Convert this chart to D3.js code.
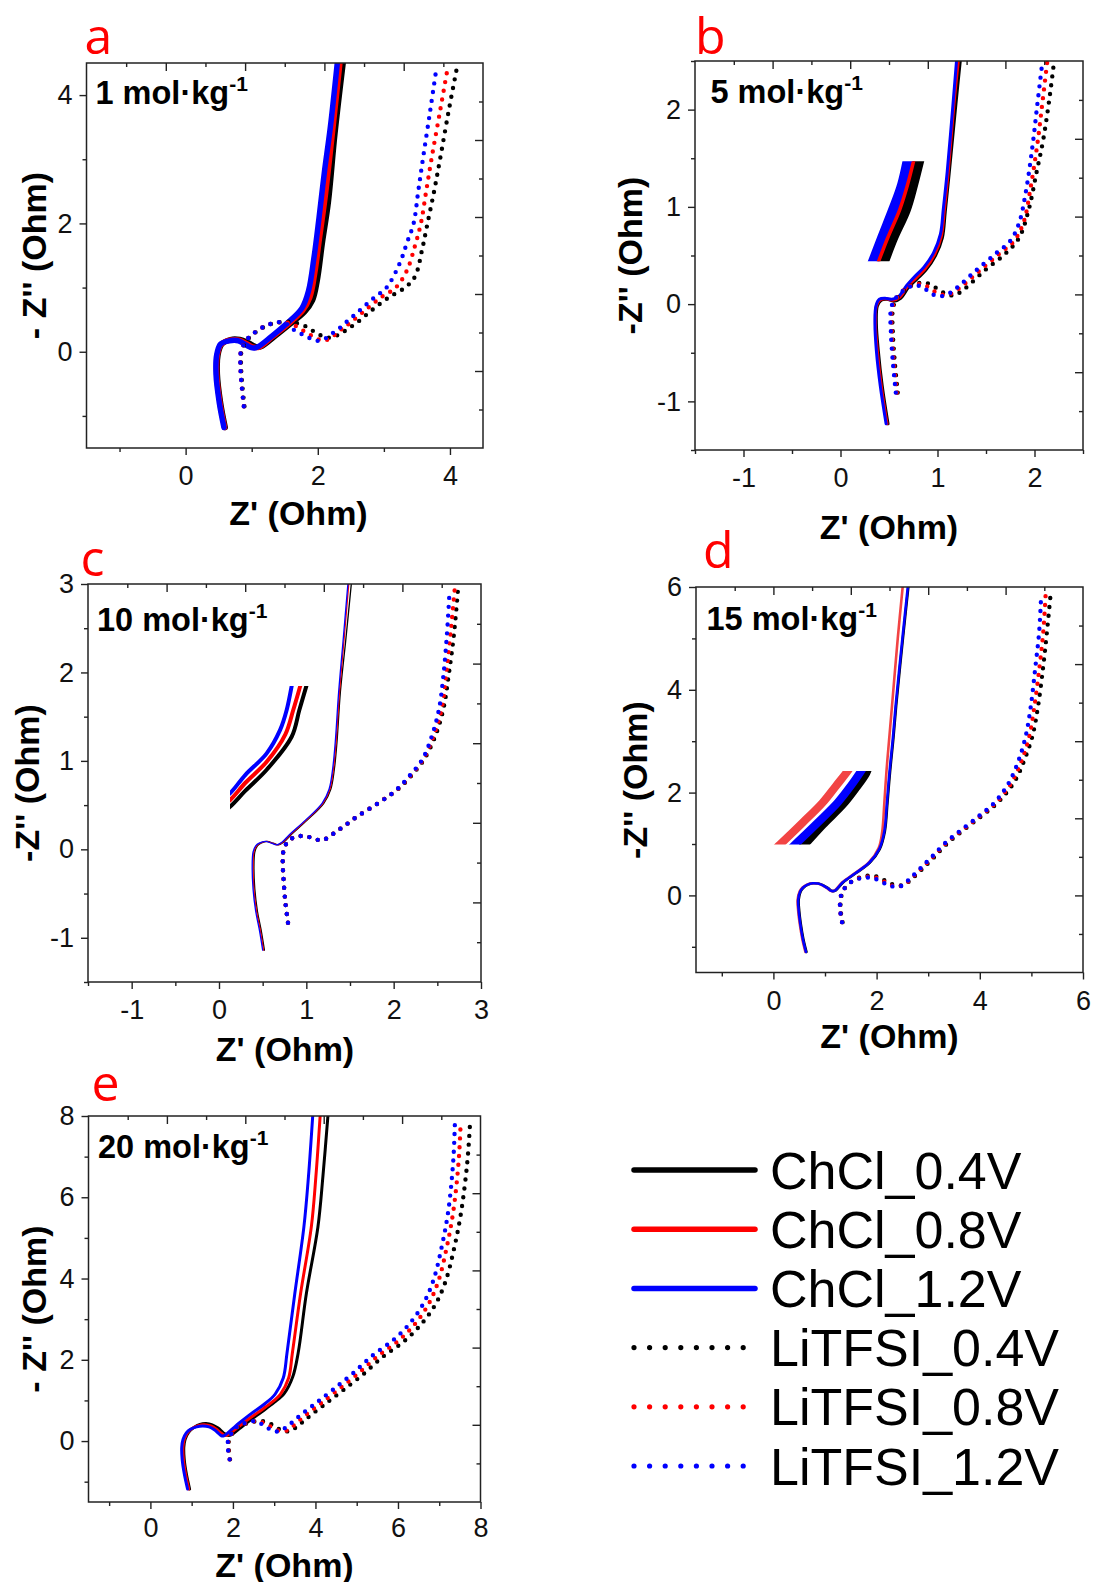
<!DOCTYPE html>
<html>
<head>
<meta charset="utf-8">
<script src="https://cdn.jsdelivr.net/npm/d3@7"></script>
<style>
  body { margin: 0; background: #fff; }
  svg { display: block; }
  .tick text { font-family: "Liberation Sans", Arial, sans-serif; fill: #111; }
</style>
</head>
<body>
<svg id="fig" width="1096" height="1582"></svg>
<script>
// ---------- series names / legend ----------
const seriesNames = ["ChCl_0.4V", "ChCl_0.8V", "ChCl_1.2V", "LiTFSI_0.4V", "LiTFSI_0.8V", "LiTFSI_1.2V"];
const seriesColors = ["#000000", "#ff0000", "#0000ff"];

// ---------- panel a : 1 mol/kg ----------
const aConc = "1";
const aXTicks = [0, 2, 4];
const aYTicks = [0, 2, 4];
const a_ChCl_04 = [[0.60,-1.18],[0.53,-0.80],[0.48,-0.35],[0.49,-0.05],[0.55,0.12],[0.68,0.19],[0.82,0.19],[0.95,0.14],[1.06,0.08],[1.14,0.08],[1.35,0.24],[1.58,0.43],[1.80,0.62],[1.92,0.80],[1.99,1.10],[2.07,1.70],[2.16,2.33],[2.26,3.40],[2.39,4.55]];
const a_ChCl_08 = [[0.59,-1.18],[0.52,-0.80],[0.47,-0.35],[0.48,-0.05],[0.54,0.12],[0.67,0.18],[0.81,0.18],[0.93,0.12],[1.03,0.07],[1.11,0.07],[1.32,0.24],[1.55,0.43],[1.77,0.64],[1.88,0.85],[1.95,1.20],[2.03,1.80],[2.11,2.40],[2.22,3.40],[2.34,4.55]];
const a_ChCl_12 = [[0.58,-1.18],[0.51,-0.80],[0.46,-0.35],[0.47,-0.05],[0.53,0.12],[0.66,0.17],[0.80,0.17],[0.92,0.10],[1.01,0.06],[1.08,0.07],[1.30,0.24],[1.53,0.44],[1.76,0.68],[1.86,0.95],[1.94,1.45],[2.02,2.10],[2.10,2.80],[2.19,3.50],[2.30,4.55]];
const a_Li_04 = [[0.89,-0.85],[0.86,-0.55],[0.84,-0.25],[0.85,0.02],[0.97,0.23],[1.10,0.33],[1.23,0.41],[1.37,0.45],[1.52,0.47],[1.66,0.45],[1.81,0.40],[1.95,0.31],[2.08,0.24],[2.20,0.22],[2.32,0.27],[2.46,0.36],[2.60,0.46],[2.82,0.65],[3.08,0.85],[3.32,1.00],[3.47,1.17],[3.58,1.60],[3.66,2.00],[3.76,2.50],[3.85,3.00],[3.98,3.75],[4.11,4.45]];
const a_Li_08 = [[0.88,-0.85],[0.85,-0.55],[0.83,-0.25],[0.84,0.02],[0.96,0.23],[1.09,0.33],[1.22,0.41],[1.36,0.45],[1.50,0.46],[1.63,0.42],[1.76,0.34],[1.89,0.26],[2.02,0.19],[2.12,0.18],[2.24,0.25],[2.37,0.36],[2.50,0.46],[2.72,0.65],[2.96,0.85],[3.18,1.00],[3.35,1.27],[3.47,1.65],[3.56,2.00],[3.64,2.50],[3.72,3.00],[3.85,3.75],[3.97,4.45]];
const a_Li_12 = [[0.88,-0.85],[0.85,-0.55],[0.83,-0.25],[0.84,0.02],[0.96,0.23],[1.09,0.33],[1.22,0.41],[1.35,0.45],[1.49,0.46],[1.61,0.36],[1.73,0.29],[1.86,0.22],[1.98,0.17],[2.10,0.20],[2.21,0.28],[2.33,0.37],[2.44,0.47],[2.64,0.65],[2.86,0.85],[3.04,1.00],[3.24,1.38],[3.35,1.70],[3.45,2.00],[3.52,2.50],[3.59,3.00],[3.70,3.75],[3.80,4.45]];

// ---------- panel b : 5 mol/kg ----------
const bConc = "5";
const bXTicks = [-1, 0, 1, 2];
const bYTicks = [-1, 0, 1, 2];
const b_ChCl_04 = [[0.49,-1.23],[0.43,-0.84],[0.39,-0.48],[0.37,-0.20],[0.38,-0.02],[0.42,0.04],[0.48,0.05],[0.55,0.03],[0.62,0.06],[0.70,0.17],[0.79,0.26],[0.88,0.35],[0.98,0.50],[1.05,0.68],[1.08,0.95],[1.12,1.34],[1.19,2.06],[1.24,2.55]];
const b_ChCl_08 = [[0.48,-1.23],[0.42,-0.84],[0.38,-0.48],[0.36,-0.20],[0.37,-0.02],[0.41,0.045],[0.47,0.055],[0.54,0.04],[0.61,0.07],[0.69,0.18],[0.78,0.27],[0.87,0.36],[0.97,0.51],[1.04,0.70],[1.07,0.96],[1.11,1.35],[1.17,2.06],[1.22,2.55]];
const b_ChCl_12 = [[0.47,-1.23],[0.41,-0.84],[0.37,-0.48],[0.355,-0.20],[0.365,-0.02],[0.40,0.05],[0.46,0.06],[0.53,0.05],[0.60,0.08],[0.68,0.19],[0.77,0.29],[0.86,0.38],[0.96,0.53],[1.03,0.72],[1.06,0.98],[1.10,1.36],[1.16,2.06],[1.20,2.55]];
const b_Li_04 = [[0.59,-0.91],[0.56,-0.60],[0.54,-0.30],[0.54,-0.05],[0.58,0.06],[0.68,0.16],[0.78,0.21],[0.88,0.22],[0.98,0.17],[1.08,0.11],[1.17,0.09],[1.27,0.15],[1.49,0.35],[1.70,0.52],[1.84,0.68],[1.94,0.97],[2.02,1.35],[2.09,1.69],[2.16,2.16],[2.20,2.48]];
const b_Li_08 = [[0.58,-0.91],[0.55,-0.60],[0.53,-0.30],[0.53,-0.05],[0.57,0.05],[0.66,0.15],[0.76,0.20],[0.86,0.20],[0.95,0.14],[1.04,0.10],[1.12,0.10],[1.22,0.16],[1.43,0.34],[1.64,0.52],[1.79,0.65],[1.89,0.85],[1.96,1.20],[2.03,1.65],[2.08,2.06],[2.13,2.48]];
const b_Li_12 = [[0.57,-0.91],[0.54,-0.60],[0.52,-0.30],[0.52,-0.05],[0.56,0.05],[0.65,0.14],[0.75,0.19],[0.84,0.18],[0.92,0.12],[1.01,0.08],[1.10,0.10],[1.19,0.16],[1.39,0.34],[1.60,0.52],[1.75,0.65],[1.84,0.83],[1.91,1.15],[1.98,1.63],[2.03,2.06],[2.08,2.48]];
// magnified detail of the ChCl curves
const b_zoom_04 = [[0.40,0.32],[0.537,0.68],[0.668,0.97],[0.744,1.23],[0.834,1.59]];
const b_zoom_08 = [[0.348,0.32],[0.486,0.68],[0.61,0.97],[0.692,1.23],[0.782,1.59]];
const b_zoom_12 = [[0.296,0.32],[0.434,0.68],[0.548,0.97],[0.641,1.23],[0.72,1.59]];

// ---------- panel c : 10 mol/kg ----------
const cConc = "10";
const cXTicks = [-1, 0, 1, 2, 3];
const cYTicks = [-1, 0, 1, 2, 3];
const c_ChCl_04 = [[0.52,-1.14],[0.48,-0.90],[0.44,-0.70],[0.41,-0.45],[0.40,-0.20],[0.41,-0.03],[0.44,0.04],[0.48,0.07],[0.55,0.09],[0.62,0.07],[0.68,0.05],[0.74,0.08],[0.82,0.16],[1.01,0.33],[1.20,0.52],[1.28,0.68],[1.32,0.90],[1.35,1.20],[1.39,1.78],[1.45,2.35],[1.52,3.05]];
const c_ChCl_08 = [[0.51,-1.14],[0.47,-0.90],[0.43,-0.70],[0.40,-0.45],[0.39,-0.20],[0.40,-0.03],[0.43,0.04],[0.47,0.07],[0.54,0.09],[0.61,0.07],[0.67,0.05],[0.73,0.08],[0.81,0.16],[1.00,0.33],[1.19,0.52],[1.27,0.68],[1.31,0.90],[1.34,1.20],[1.38,1.78],[1.43,2.35],[1.49,3.05]];
const c_ChCl_12 = [[0.50,-1.14],[0.46,-0.90],[0.42,-0.70],[0.39,-0.45],[0.38,-0.20],[0.39,-0.03],[0.42,0.04],[0.46,0.07],[0.53,0.09],[0.60,0.07],[0.66,0.05],[0.72,0.08],[0.80,0.16],[0.99,0.33],[1.18,0.52],[1.26,0.68],[1.30,0.90],[1.33,1.20],[1.37,1.78],[1.42,2.35],[1.48,3.05]];
const c_Li_04 = [[0.79,-0.83],[0.76,-0.60],[0.74,-0.35],[0.73,-0.12],[0.745,0.01],[0.80,0.10],[0.88,0.14],[0.985,0.15],[1.09,0.12],[1.18,0.10],[1.27,0.15],[1.355,0.21],[1.45,0.275],[1.58,0.37],[1.74,0.47],[1.91,0.58],[2.05,0.68],[2.20,0.83],[2.35,1.02],[2.48,1.29],[2.57,1.59],[2.63,1.97],[2.69,2.43],[2.74,2.98]];
const c_Li_08 = [[0.79,-0.83],[0.76,-0.60],[0.74,-0.35],[0.73,-0.12],[0.745,0.01],[0.80,0.10],[0.88,0.14],[0.985,0.15],[1.09,0.12],[1.18,0.10],[1.27,0.15],[1.355,0.21],[1.45,0.275],[1.58,0.37],[1.74,0.47],[1.91,0.58],[2.045,0.68],[2.19,0.83],[2.34,1.02],[2.46,1.29],[2.55,1.59],[2.60,1.97],[2.65,2.43],[2.70,2.95]];
const c_Li_12 = [[0.79,-0.83],[0.76,-0.60],[0.74,-0.35],[0.73,-0.12],[0.745,0.01],[0.80,0.10],[0.88,0.14],[0.985,0.15],[1.09,0.12],[1.18,0.10],[1.27,0.15],[1.355,0.21],[1.45,0.275],[1.58,0.37],[1.74,0.47],[1.91,0.58],[2.04,0.68],[2.18,0.83],[2.33,1.02],[2.44,1.29],[2.52,1.59],[2.57,1.97],[2.61,2.43],[2.64,2.92]];
const c_zoom_04 = [[0.05,0.42],[0.126,0.48],[0.30,0.66],[0.546,0.90],[0.832,1.273],[0.92,1.575],[1.0,1.846],[1.03,1.95]];
const c_zoom_08 = [[0.05,0.50],[0.126,0.556],[0.30,0.75],[0.546,0.99],[0.76,1.30],[0.85,1.575],[0.93,1.846],[0.96,1.95]];
const c_zoom_12 = [[0.05,0.58],[0.126,0.633],[0.30,0.84],[0.546,1.085],[0.70,1.35],[0.775,1.575],[0.832,1.846],[0.85,1.95]];

// ---------- panel d : 15 mol/kg ----------
const dConc = "15";
const dXTicks = [0, 2, 4, 6];
const dYTicks = [0, 2, 4, 6];
const d_ChCl_04 = [[0.64,-1.10],[0.58,-0.85],[0.53,-0.55],[0.50,-0.30],[0.49,-0.08],[0.53,0.08],[0.58,0.15],[0.67,0.21],[0.77,0.235],[0.87,0.23],[0.96,0.20],[1.06,0.14],[1.14,0.085],[1.21,0.10],[1.35,0.25],[1.61,0.44],[1.87,0.64],[2.06,0.90],[2.16,1.25],[2.21,1.80],[2.26,2.40],[2.32,3.00],[2.38,3.70],[2.51,5.00],[2.62,6.05]];
const d_ChCl_08 = [[0.62,-1.10],[0.56,-0.85],[0.51,-0.55],[0.48,-0.30],[0.47,-0.08],[0.51,0.08],[0.56,0.15],[0.65,0.21],[0.75,0.235],[0.85,0.23],[0.94,0.20],[1.04,0.14],[1.12,0.085],[1.19,0.10],[1.33,0.25],[1.59,0.44],[1.85,0.64],[2.04,0.92],[2.11,1.25],[2.15,1.80],[2.19,2.40],[2.24,3.00],[2.30,3.70],[2.41,5.00],[2.51,6.05]];
const d_ChCl_12 = [[0.63,-1.10],[0.57,-0.85],[0.52,-0.55],[0.49,-0.30],[0.48,-0.08],[0.52,0.08],[0.57,0.15],[0.66,0.21],[0.76,0.235],[0.86,0.23],[0.95,0.20],[1.05,0.14],[1.13,0.085],[1.20,0.10],[1.34,0.25],[1.60,0.44],[1.86,0.64],[2.05,0.90],[2.15,1.25],[2.20,1.80],[2.25,2.40],[2.31,3.00],[2.37,3.70],[2.50,5.00],[2.61,6.05]];
const d_Li_04 = [[1.34,-0.52],[1.31,-0.35],[1.30,-0.175],[1.32,0.0],[1.36,0.11],[1.46,0.22],[1.56,0.30],[1.76,0.37],[1.96,0.38],[2.16,0.29],[2.33,0.21],[2.52,0.20],[2.68,0.32],[2.88,0.51],[3.10,0.73],[3.39,1.03],[3.71,1.29],[4.04,1.55],[4.31,1.77],[4.52,2.00],[4.70,2.26],[4.87,2.65],[5.02,3.10],[5.13,3.69],[5.23,4.47],[5.30,5.12],[5.37,5.83]];
const d_Li_08 = [[1.33,-0.52],[1.30,-0.35],[1.29,-0.175],[1.31,0.0],[1.35,0.10],[1.45,0.21],[1.55,0.29],[1.74,0.355],[1.94,0.36],[2.14,0.27],[2.30,0.19],[2.50,0.19],[2.65,0.31],[2.85,0.51],[3.07,0.73],[3.36,1.03],[3.68,1.29],[4.01,1.55],[4.28,1.77],[4.48,2.00],[4.65,2.26],[4.82,2.65],[4.96,3.10],[5.06,3.69],[5.16,4.47],[5.23,5.12],[5.28,5.93]];
const d_Li_12 = [[1.33,-0.52],[1.30,-0.35],[1.29,-0.175],[1.31,0.0],[1.35,0.10],[1.44,0.20],[1.535,0.28],[1.73,0.34],[1.92,0.34],[2.12,0.25],[2.28,0.18],[2.47,0.18],[2.63,0.31],[2.83,0.51],[3.05,0.73],[3.34,1.03],[3.66,1.29],[3.99,1.55],[4.25,1.77],[4.44,2.00],[4.60,2.26],[4.76,2.65],[4.89,3.10],[4.99,3.69],[5.08,4.47],[5.15,5.12],[5.19,5.86]];
const d_zoom_04 = [[0.42,0.80],[0.57,0.95],[0.96,1.376],[1.345,1.765],[1.60,2.09],[1.80,2.38],[1.86,2.55]];
const d_zoom_08 = [[-0.02,0.85],[0.129,0.99],[0.568,1.416],[0.955,1.805],[1.213,2.13],[1.44,2.42],[1.52,2.55]];
const d_zoom_12 = [[0.27,0.85],[0.42,0.99],[0.86,1.416],[1.245,1.805],[1.50,2.13],[1.70,2.42],[1.78,2.55]];

// ---------- panel e : 20 mol/kg ----------
const eConc = "20";
const eXTicks = [0, 2, 4, 6, 8];
const eYTicks = [0, 2, 4, 6, 8];
const e_ChCl_04 = [[0.95,-1.18],[0.87,-0.80],[0.82,-0.45],[0.81,-0.15],[0.84,0.04],[0.93,0.22],[1.05,0.33],[1.20,0.41],[1.35,0.43],[1.50,0.40],[1.64,0.32],[1.77,0.20],[1.87,0.14],[1.96,0.15],[2.15,0.30],[2.40,0.50],[2.70,0.72],[3.00,0.95],[3.25,1.18],[3.45,1.58],[3.58,2.16],[3.78,3.63],[4.06,5.27],[4.18,6.50],[4.31,8.10]];
const e_ChCl_08 = [[0.93,-1.18],[0.85,-0.80],[0.80,-0.45],[0.79,-0.15],[0.82,0.04],[0.90,0.21],[1.01,0.31],[1.16,0.38],[1.31,0.40],[1.46,0.37],[1.60,0.29],[1.72,0.19],[1.80,0.14],[1.88,0.15],[2.05,0.28],[2.30,0.48],[2.60,0.70],[2.90,0.92],[3.15,1.15],[3.35,1.55],[3.44,2.16],[3.64,3.63],[3.90,5.27],[4.01,6.50],[4.12,8.10]];
const e_ChCl_12 = [[0.90,-1.18],[0.82,-0.80],[0.77,-0.45],[0.76,-0.15],[0.79,0.04],[0.87,0.20],[0.97,0.29],[1.12,0.35],[1.27,0.37],[1.42,0.35],[1.55,0.28],[1.65,0.19],[1.72,0.13],[1.78,0.13],[1.95,0.27],[2.16,0.45],[2.45,0.68],[2.75,0.90],[3.02,1.15],[3.22,1.55],[3.31,2.16],[3.50,3.63],[3.72,5.27],[3.83,6.50],[3.94,8.10]];
const e_Li_04 = [[1.93,-0.45],[1.90,-0.20],[1.90,0.00],[1.99,0.20],[2.16,0.37],[2.40,0.45],[2.66,0.50],[2.92,0.42],[3.15,0.28],[3.36,0.24],[3.52,0.33],[3.70,0.48],[3.90,0.65],[4.22,0.90],[4.64,1.23],[5.14,1.63],[5.64,2.08],[6.14,2.45],[6.55,2.86],[6.90,3.35],[7.15,3.92],[7.36,4.74],[7.53,5.63],[7.68,6.86],[7.75,7.88]];
const e_Li_08 = [[1.92,-0.45],[1.89,-0.20],[1.89,0.00],[1.98,0.20],[2.14,0.37],[2.36,0.45],[2.60,0.49],[2.84,0.40],[3.06,0.27],[3.25,0.24],[3.42,0.34],[3.60,0.50],[3.80,0.67],[4.12,0.92],[4.53,1.25],[5.02,1.65],[5.52,2.10],[6.01,2.47],[6.41,2.88],[6.74,3.37],[6.98,3.94],[7.18,4.76],[7.34,5.65],[7.47,6.88],[7.52,7.84]];
const e_Li_12 = [[1.92,-0.45],[1.88,-0.20],[1.88,0.00],[1.97,0.20],[2.12,0.37],[2.32,0.45],[2.55,0.49],[2.77,0.37],[2.97,0.25],[3.12,0.24],[3.30,0.35],[3.50,0.52],[3.70,0.69],[4.02,0.94],[4.43,1.27],[4.91,1.67],[5.40,2.12],[5.89,2.49],[6.29,2.90],[6.62,3.39],[6.86,3.96],[7.06,4.78],[7.22,5.67],[7.34,6.90],[7.38,7.84]];

// ---------- layout of the five panels ----------
const panels = [
  { key: "a", conc: aConc, box: [86.5, 63, 483, 448], xd: [-1.5, 4.5], yd: [-1.5, 4.5], xt: aXTicks, yt: aYTicks,
    solid: [a_ChCl_04, a_ChCl_08, a_ChCl_12], dotted: [a_Li_04, a_Li_08, a_Li_12], sw: 5.5, pad: 11,
    letter: [84.5, 53.5], note: [95.5, 104], xTitle: [298.5, 525], yTitle: [46, 255.5], yLabel: "- Z'' (Ohm)" },
  { key: "b", conc: bConc, box: [695, 61, 1083, 450], xd: [-1.5, 2.5], yd: [-1.5, 2.5], xt: bXTicks, yt: bYTicks,
    solid: [b_ChCl_04, b_ChCl_08, b_ChCl_12], dotted: [b_Li_04, b_Li_08, b_Li_12], sw: 3, pad: 11,
    zoom: { lines: [b_zoom_04, b_zoom_12, b_zoom_08], widths: [11, 11, 3.5], colors: ["#000", "#0000ff", "#ff0000"], clip: [0.27, 1.5, 0.44, 1.47] },
    letter: [695, 53.5], note: [710.5, 103], xTitle: [889, 539], yTitle: [642, 255.5], yLabel: "-Z'' (Ohm)" },
  { key: "c", conc: cConc, box: [88, 584, 481, 982], xd: [-1.5, 3], yd: [-1.5, 3], xt: cXTicks, yt: cYTicks,
    solid: [c_ChCl_04, c_ChCl_08, c_ChCl_12], dotted: [c_Li_04, c_Li_08, c_Li_12], sw: 1.3, pad: 11,
    zoom: { lines: [c_zoom_04, c_zoom_08, c_zoom_12], widths: [4, 4, 4], colors: ["#000", "#ff0000", "#0000ff"], clip: [0.126, 1.5, 0.3, 1.846] },
    letter: [80.5, 576], note: [97, 630.5], xTitle: [285, 1061], yTitle: [39, 783], yLabel: "-Z'' (Ohm)" },
  { key: "d", conc: dConc, box: [696, 587, 1083, 972.5], xd: [-1.5, 6], yd: [-1.5, 6], xt: dXTicks, yt: dYTicks,
    solid: [d_ChCl_04, d_ChCl_08, d_ChCl_12], dotted: [d_Li_04, d_Li_08, d_Li_12], sw: 2.6, pad: 11, red: "#f24444",
    zoom: { lines: [d_zoom_04, d_zoom_12, d_zoom_08], widths: [8, 8, 8], colors: ["#000", "#0000ff", "#f24444"], clip: [-0.2, 2.0, 0.99, 2.42] },
    letter: [703, 568], note: [706.5, 629.5], xTitle: [889.5, 1048], yTitle: [647, 780], yLabel: "-Z'' (Ohm)" },
  { key: "e", conc: eConc, box: [88.5, 1116, 480.5, 1502], xd: [-1.5, 8], yd: [-1.5, 8], xt: eXTicks, yt: eYTicks,
    solid: [e_ChCl_04, e_ChCl_08, e_ChCl_12], dotted: [e_Li_04, e_Li_08, e_Li_12], sw: 3, pad: 9,
    letter: [91.5, 1101], note: [98, 1157.5], xTitle: [284.5, 1576.5], yTitle: [46, 1309], yLabel: "- Z'' (Ohm)" }
];

const svg = d3.select("#fig");
const defs = svg.append("defs");
const SANS = "'Liberation Sans', Arial, sans-serif";

// minor ticks halfway between the labelled ones, kept inside the axis range
function minorTicks(major, dom) {
  const step = major[1] - major[0];
  const out = [];
  for (let v = major[0] - step / 2; v <= dom[1] + 1e-9; v += step) {
    if (v >= dom[0] - 1e-9 && !major.some(m => Math.abs(m - v) < 1e-9)) out.push(v);
  }
  return out;
}
// plain hyphen for negative tick labels
const tickFmt = v => String(v);

function drawPanel(p) {
  const [x0, y0, x1, y1] = p.box;
  const x = d3.scaleLinear().domain(p.xd).range([x0, x1]);
  const y = d3.scaleLinear().domain(p.yd).range([y1, y0]);
  const g = svg.append("g").attr("class", "panel-" + p.key);

  defs.append("clipPath").attr("id", "clip-" + p.key)
    .append("rect").attr("x", x0).attr("y", y0).attr("width", x1 - x0).attr("height", y1 - y0);
  const plot = g.append("g").attr("clip-path", `url(#clip-${p.key})`);

  const line = d3.line().x(d => x(d[0])).y(d => y(d[1])).curve(d3.curveCatmullRom.alpha(0.5));
  const reds = p.red || "#ff0000";
  const colors = ["#000000", reds, "#0000ff"];

  // magnified detail of the solid curves
  if (p.zoom) {
    const z = p.zoom;
    const [cx0, cx1, cy0, cy1] = z.clip;
    defs.append("clipPath").attr("id", "zclip-" + p.key)
      .append("rect").attr("x", x(cx0)).attr("y", y(cy1))
      .attr("width", x(cx1) - x(cx0)).attr("height", y(cy0) - y(cy1));
    const zg = plot.append("g").attr("clip-path", `url(#zclip-${p.key})`);
    z.lines.forEach((pts, i) => {
      zg.append("path").attr("d", line(pts)).attr("fill", "none")
        .attr("stroke", z.colors[i]).attr("stroke-width", z.widths[i])
        .attr("stroke-linejoin", "round");
    });
  }

  // ChCl solid curves
  p.solid.forEach((pts, i) => {
    plot.append("path").attr("d", line(pts)).attr("fill", "none")
      .attr("stroke", colors[i]).attr("stroke-width", p.sw)
      .attr("stroke-linejoin", "round").attr("stroke-linecap", "round");
  });
  // LiTFSI dotted curves
  p.dotted.forEach((pts, i) => {
    plot.append("path").attr("d", line(pts)).attr("fill", "none")
      .attr("stroke", seriesColors[i]).attr("stroke-width", 4.4)
      .attr("stroke-linecap", "round").attr("stroke-dasharray", "0 8.8");
  });

  // axes: labelled bottom/left (outward ticks), plain top/right (inward ticks)
  g.append("g").attr("transform", `translate(0,${y1})`)
    .call(d3.axisBottom(x).tickValues(p.xt).tickFormat(tickFmt).tickSize(7).tickPadding(p.pad));
  g.append("g").attr("transform", `translate(0,${y1})`)
    .call(d3.axisBottom(x).tickValues(minorTicks(p.xt, p.xd)).tickFormat("").tickSize(4));
  g.append("g").attr("transform", `translate(${x0},0)`)
    .call(d3.axisLeft(y).tickValues(p.yt).tickFormat(tickFmt).tickSize(7).tickPadding(7));
  g.append("g").attr("transform", `translate(${x0},0)`)
    .call(d3.axisLeft(y).tickValues(minorTicks(p.yt, p.yd)).tickFormat("").tickSize(4));

  const div = k => d3.range(1, 10).filter(i => i % 2 === k);
  const frac = (d, i) => d[0] + (d[1] - d[0]) * i / 10;
  [[0, 8], [1, 4]].forEach(([k, len]) => {
    g.append("g").attr("transform", `translate(0,${y0})`)
      .call(d3.axisTop(x).tickValues(div(k).map(i => frac(p.xd, i))).tickFormat("").tickSize(-len));
    g.append("g").attr("transform", `translate(${x1},0)`)
      .call(d3.axisRight(y).tickValues(div(k).map(i => frac(p.yd, i))).tickFormat("").tickSize(-len));
  });
  g.selectAll(".domain").remove();
  g.selectAll(".tick line").attr("stroke", "#222").attr("stroke-width", 1.4);
  g.selectAll(".tick text").attr("font-size", 27).attr("font-family", SANS);

  g.append("rect").attr("x", x0).attr("y", y0).attr("width", x1 - x0).attr("height", y1 - y0)
    .attr("fill", "none").attr("stroke", "#222").attr("stroke-width", 1.5);

  // axis titles
  g.append("text").attr("x", p.xTitle[0]).attr("y", p.xTitle[1])
    .attr("text-anchor", "middle").attr("font-family", SANS).attr("font-weight", "bold")
    .attr("font-size", 34).attr("fill", "#000").text("Z' (Ohm)");
  g.append("text").attr("transform", `translate(${p.yTitle[0]},${p.yTitle[1]}) rotate(-90)`)
    .attr("text-anchor", "middle").attr("font-family", SANS).attr("font-weight", "bold")
    .attr("font-size", 34).attr("fill", "#000").text(p.yLabel);

  // concentration note
  const note = g.append("text").attr("x", p.note[0]).attr("y", p.note[1])
    .attr("font-family", SANS).attr("font-weight", "bold").attr("font-size", 32.5).attr("fill", "#000");
  note.append("tspan").text(p.conc + " mol\u00b7kg");
  note.append("tspan").attr("dy", -13).attr("font-size", 21).text("-1");

  // panel letter
  g.append("text").attr("x", p.letter[0]).attr("y", p.letter[1])
    .attr("font-family", "'Open Sans', 'Noto Sans', sans-serif").attr("font-size", 50)
    .attr("fill", "#ff0000").text(p.key);
}

panels.forEach(drawPanel);

// ---------- legend ----------
const legend = svg.append("g").attr("class", "legend");
const lgX0 = 634, lgX1 = 755, lgY0 = 1170, lgStep = 59.2;
seriesNames.forEach((name, i) => {
  const yy = lgY0 + i * lgStep;
  const dotted = i >= 3;
  legend.append("line").attr("x1", lgX0).attr("x2", dotted ? lgX0 + 7 * 15.6 + 0.1 : lgX1)
    .attr("y1", yy).attr("y2", yy)
    .attr("stroke", seriesColors[i % 3]).attr("stroke-width", dotted ? 5.2 : 5.5)
    .attr("stroke-linecap", "round")
    .attr("stroke-dasharray", dotted ? "0 15.6" : null);
  legend.append("text").attr("x", 770).attr("y", yy + 18.5)
    .attr("font-family", SANS).attr("font-size", 52).attr("fill", "#000").text(name);
});
</script>
</body>
</html>
